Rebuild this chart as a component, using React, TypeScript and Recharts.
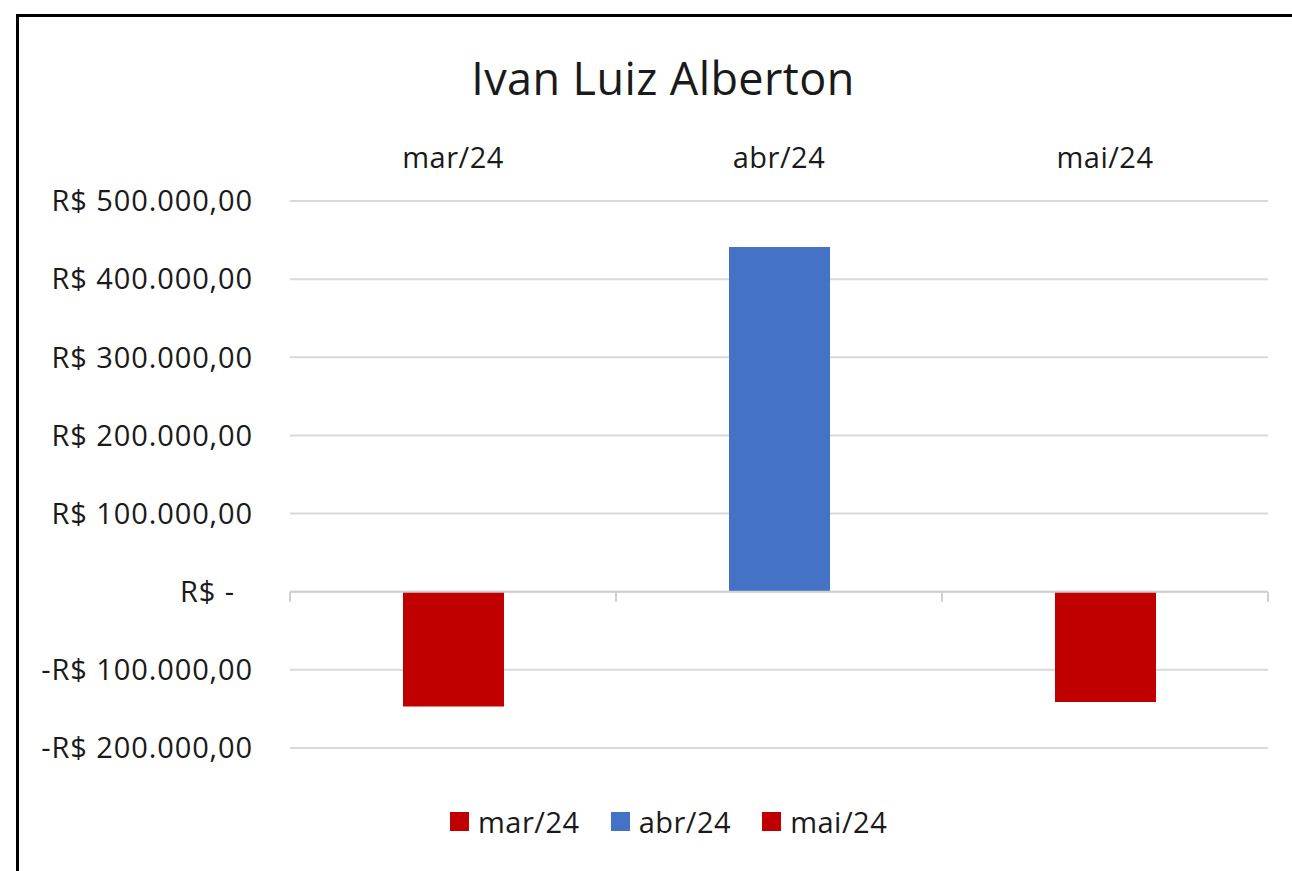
import React from "react";
import {
  BarChart,
  Bar,
  Cell,
  XAxis,
  YAxis,
  CartesianGrid,
  ReferenceLine,
} from "recharts";

const months = ["mar/24", "abr/24", "mai/24"];
const values = [-147000, 441000, -141000];
const colors = ["#C00000", "#4472C4", "#C00000"];
const yTicks = [-200000, -100000, 0, 100000, 200000, 300000, 400000, 500000];

const data = months.map((m, i) => ({ month: m, value: values[i] }));

const FONT = "'Open Sans', sans-serif";
const TEXT = "#1a1a1a";

function formatBRL(v: number) {
  if (v === 0) return "R$ -";
  const abs = Math.abs(v)
    .toFixed(0)
    .replace(/\B(?=(\d{3})+(?!\d))/g, ".");
  return `${v < 0 ? "-" : ""}R$ ${abs},00`;
}

function YTick(props: any) {
  const { x, y, payload } = props;
  const shift = payload.value === 0 ? -18 : 0;
  return (
    <text
      x={x + shift}
      y={y}
      dy="0.355em"
      textAnchor="end"
      fill={TEXT}
      fontSize={29}
      letterSpacing={0.9}
      fontFamily={FONT}
    >
      {formatBRL(payload.value)}
    </text>
  );
}

// zero line with small tick marks at category boundaries
function ZeroAxis(props: any) {
  const { x1, y1, x2 } = props;
  const n = months.length;
  const step = (x2 - x1) / n;
  return (
    <g>
      <line x1={x1} y1={y1} x2={x2} y2={y1} stroke="#d0d0d0" strokeWidth={2} />
      {Array.from({ length: n + 1 }).map((_, i) => (
        <line
          key={i}
          x1={x1 + i * step}
          y1={y1}
          x2={x1 + i * step}
          y2={y1 + 10}
          stroke="#d0d0d0"
          strokeWidth={2}
        />
      ))}
    </g>
  );
}

export default function App() {
  return (
    <div
      style={{
        position: "absolute",
        left: 0,
        top: 0,
        width: 1292,
        height: 871,
        overflow: "hidden",
        background: "#fff",
        fontFamily: FONT,
      }}
    >
      <div
        style={{
          position: "absolute",
          left: 16,
          top: 14,
          width: 1400,
          height: 1000,
          border: "3px solid #000",
        }}
      />
      <div
        style={{
          position: "absolute",
          left: 0,
          top: 55,
          width: 1326,
          textAlign: "center",
          fontSize: 45,
          lineHeight: "45px",
          letterSpacing: 0.4,
          color: TEXT,
        }}
      >
        Ivan Luiz Alberton
      </div>
      <div style={{ position: "absolute", left: 0, top: 0 }}>
        <BarChart
          width={1292}
          height={871}
          data={data}
          margin={{ top: 120, right: 24, bottom: 123, left: 0 }}
        >
          <CartesianGrid
            vertical={false}
            stroke="#d9d9d9"
            strokeWidth={2}
          />
          <XAxis
            dataKey="month"
            orientation="top"
            height={81}
            axisLine={false}
            tickLine={false}
            tickSize={0}
            tickMargin={33}
            tick={{
              fill: TEXT,
              fontSize: 29,
              fontFamily: FONT,
              letterSpacing: 0.5,
            }}
          />
          <YAxis
            type="number"
            domain={[-200000, 500000]}
            ticks={yTicks}
            width={290}
            axisLine={false}
            tickLine={false}
            tickSize={0}
            tickMargin={37}
            tick={<YTick />}
            interval={0}
          />
          <ReferenceLine y={0} shape={<ZeroAxis />} />
          <Bar dataKey="value" barSize={101} isAnimationActive={false}>
            {data.map((d, i) => (
              <Cell key={d.month} fill={colors[i]} />
            ))}
          </Bar>
        </BarChart>
      </div>
      <div
        style={{
          position: "absolute",
          left: 450,
          top: 807,
          height: 29,
          display: "flex",
          alignItems: "center",
          fontSize: 29,
          lineHeight: "29px",
          letterSpacing: 0.5,
          color: TEXT,
        }}
      >
        {months.map((m, i) => (
          <div
            key={m}
            style={{
              display: "flex",
              alignItems: "center",
              marginRight: 31,
            }}
          >
            <div
              style={{
                width: 19,
                height: 19,
                background: colors[i],
                marginRight: 9,
              }}
            />
            <span>{m}</span>
          </div>
        ))}
      </div>
    </div>
  );
}
